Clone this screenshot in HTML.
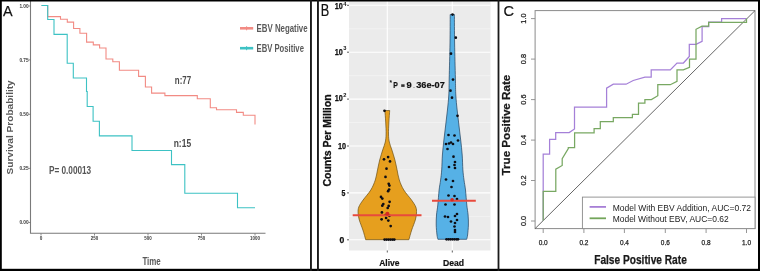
<!DOCTYPE html>
<html><head><meta charset="utf-8"><style>
html,body{margin:0;padding:0;background:#fff;width:760px;height:271px;overflow:hidden}
svg{display:block;font-family:"Liberation Sans", sans-serif;will-change:transform}
</style></head><body>
<svg width="760" height="271" viewBox="0 0 760 271">
<rect x="0" y="0" width="760" height="271" fill="#fff"/>
<text x="3.0" y="15.8" font-size="15" font-weight="normal" fill="#111" text-anchor="start" textLength="9.6" lengthAdjust="spacingAndGlyphs" stroke="#111" stroke-width="0.25">A</text>
<path d="M30.5,1 V233.3 H265.5" fill="none" stroke="#7a7a7a" stroke-width="1.1"/>
<line x1="28.5" x2="30.5" y1="6" y2="6" stroke="#6e6e6e" stroke-width="0.8"/>
<text x="28.6" y="7.9" font-size="5.4" font-weight="bold" fill="#383838" text-anchor="end" textLength="9.2" lengthAdjust="spacingAndGlyphs" >1.00</text>
<line x1="28.5" x2="30.5" y1="59.9" y2="59.9" stroke="#6e6e6e" stroke-width="0.8"/>
<text x="28.6" y="61.8" font-size="5.4" font-weight="bold" fill="#383838" text-anchor="end" textLength="9.2" lengthAdjust="spacingAndGlyphs" >0.75</text>
<line x1="28.5" x2="30.5" y1="114.3" y2="114.3" stroke="#6e6e6e" stroke-width="0.8"/>
<text x="28.6" y="116.2" font-size="5.4" font-weight="bold" fill="#383838" text-anchor="end" textLength="9.2" lengthAdjust="spacingAndGlyphs" >0.50</text>
<line x1="28.5" x2="30.5" y1="168.4" y2="168.4" stroke="#6e6e6e" stroke-width="0.8"/>
<text x="28.6" y="170.3" font-size="5.4" font-weight="bold" fill="#383838" text-anchor="end" textLength="9.2" lengthAdjust="spacingAndGlyphs" >0.25</text>
<line x1="28.5" x2="30.5" y1="222.5" y2="222.5" stroke="#6e6e6e" stroke-width="0.8"/>
<text x="28.6" y="224.4" font-size="5.4" font-weight="bold" fill="#383838" text-anchor="end" textLength="9.2" lengthAdjust="spacingAndGlyphs" >0.00</text>
<line x1="41" x2="41" y1="233.5" y2="235.5" stroke="#6e6e6e" stroke-width="0.8"/>
<text x="41" y="239.9" font-size="5.4" font-weight="bold" fill="#383838" text-anchor="middle" textLength="2.6" lengthAdjust="spacingAndGlyphs" >0</text>
<line x1="94.5" x2="94.5" y1="233.5" y2="235.5" stroke="#6e6e6e" stroke-width="0.8"/>
<text x="94.5" y="239.9" font-size="5.4" font-weight="bold" fill="#383838" text-anchor="middle" textLength="7.4" lengthAdjust="spacingAndGlyphs" >250</text>
<line x1="148" x2="148" y1="233.5" y2="235.5" stroke="#6e6e6e" stroke-width="0.8"/>
<text x="148" y="239.9" font-size="5.4" font-weight="bold" fill="#383838" text-anchor="middle" textLength="7.4" lengthAdjust="spacingAndGlyphs" >500</text>
<line x1="201.5" x2="201.5" y1="233.5" y2="235.5" stroke="#6e6e6e" stroke-width="0.8"/>
<text x="201.5" y="239.9" font-size="5.4" font-weight="bold" fill="#383838" text-anchor="middle" textLength="7.4" lengthAdjust="spacingAndGlyphs" >750</text>
<line x1="255" x2="255" y1="233.5" y2="235.5" stroke="#6e6e6e" stroke-width="0.8"/>
<text x="255" y="239.9" font-size="5.4" font-weight="bold" fill="#383838" text-anchor="middle" textLength="9.8" lengthAdjust="spacingAndGlyphs" >1000</text>
<path d="M41.5,5.5 H47.7 V16.6 H60.5 V19.2 H67.3 V22.1 H73.6 V28.5 H79.9 V33.3 H86.6 V42.1 H93.3 V44.9 H99.6 V48 H106 V59 H112.8 V61.8 H119.4 V70.2 H138.6 V76.4 H145.4 V87 H151.6 V93.1 H164.9 V95.6 H197.3 V98.8 H210.3 V107.8 H216.5 V109.8 H236.5 V112.4 H243.3 V115.2 H255 V124.5" fill="none" stroke="#F28B84" stroke-width="1.1"/>
<path d="M41.5,5.5 H47.7 V19.5 H54 V34.4 H67.2 V63.2 H73.3 V78 H86.5 V91.5 H87.2 V106.5 H93.1 V121.2 H99.4 V135.9 H132 V150.5 H171.5 V164.6 H184.8 V193.3 H237.5 V207.7 H255" fill="none" stroke="#3DC2C4" stroke-width="1.1"/>
<line x1="240" x2="253.2" y1="28.3" y2="28.3" stroke="#F28B84" stroke-width="2.6"/>
<line x1="246.6" x2="246.6" y1="26.3" y2="30.3" stroke="#F28B84" stroke-width="1"/>
<line x1="240" x2="253.2" y1="48.2" y2="48.2" stroke="#3DC2C4" stroke-width="2.6"/>
<line x1="246.6" x2="246.6" y1="46.2" y2="50.2" stroke="#3DC2C4" stroke-width="1"/>
<text x="256.6" y="31.7" font-size="10.6" font-weight="bold" fill="#5a5a5a" text-anchor="start" textLength="51" lengthAdjust="spacingAndGlyphs" >EBV Negative</text>
<text x="256.6" y="51.6" font-size="10.6" font-weight="bold" fill="#5a5a5a" text-anchor="start" textLength="47.3" lengthAdjust="spacingAndGlyphs" >EBV Positive</text>
<text x="174.8" y="83.8" font-size="10.6" font-weight="bold" fill="#4a4a4a" text-anchor="start" textLength="16.3" lengthAdjust="spacingAndGlyphs" >n:77</text>
<text x="173.7" y="147.4" font-size="10.6" font-weight="bold" fill="#4a4a4a" text-anchor="start" textLength="17.4" lengthAdjust="spacingAndGlyphs" >n:15</text>
<text x="48.9" y="173.9" font-size="10.2" font-weight="bold" fill="#555" text-anchor="start" textLength="42.3" lengthAdjust="spacingAndGlyphs" >P= 0.00013</text>
<g transform="translate(13.2,127.4) rotate(-90)"><text x="0" y="0" font-size="9.8" font-weight="bold" fill="#595959" text-anchor="middle" textLength="94.2" lengthAdjust="spacingAndGlyphs" >Survival Probability</text></g>
<text x="151.6" y="264.5" font-size="10" font-weight="bold" fill="#595959" text-anchor="middle" textLength="18.4" lengthAdjust="spacingAndGlyphs" >Time</text>
<text x="320.8" y="15.9" font-size="15.7" font-weight="normal" fill="#111" text-anchor="start" textLength="8.5" lengthAdjust="spacingAndGlyphs" stroke="#111" stroke-width="0.2">B</text>
<rect x="349" y="1" width="141.5" height="249.5" fill="#EBEBEB"/>
<line x1="349" x2="490.5" y1="28.75" y2="28.75" stroke="#F6F6F6" stroke-width="0.6"/>
<line x1="349" x2="490.5" y1="75.65" y2="75.65" stroke="#F6F6F6" stroke-width="0.6"/>
<line x1="349" x2="490.5" y1="122.55" y2="122.55" stroke="#F6F6F6" stroke-width="0.6"/>
<line x1="349" x2="490.5" y1="169.45" y2="169.45" stroke="#F6F6F6" stroke-width="0.6"/>
<line x1="349" x2="490.5" y1="216.35" y2="216.35" stroke="#F6F6F6" stroke-width="0.6"/>
<line x1="349" x2="490.5" y1="5.30" y2="5.30" stroke="#FFFFFF" stroke-width="1.1"/>
<line x1="349" x2="490.5" y1="52.20" y2="52.20" stroke="#FFFFFF" stroke-width="1.1"/>
<line x1="349" x2="490.5" y1="99.10" y2="99.10" stroke="#FFFFFF" stroke-width="1.1"/>
<line x1="349" x2="490.5" y1="146.00" y2="146.00" stroke="#FFFFFF" stroke-width="1.1"/>
<line x1="349" x2="490.5" y1="192.90" y2="192.90" stroke="#FFFFFF" stroke-width="1.1"/>
<line x1="349" x2="490.5" y1="239.80" y2="239.80" stroke="#FFFFFF" stroke-width="1.1"/>
<line x1="387.3" x2="387.3" y1="1" y2="250.5" stroke="#FFFFFF" stroke-width="1.1"/>
<line x1="452.3" x2="452.3" y1="1" y2="250.5" stroke="#FFFFFF" stroke-width="1.1"/>
<line x1="347" x2="349" y1="5.30" y2="5.30" stroke="#333" stroke-width="0.8"/>
<line x1="347" x2="349" y1="52.20" y2="52.20" stroke="#333" stroke-width="0.8"/>
<line x1="347" x2="349" y1="99.10" y2="99.10" stroke="#333" stroke-width="0.8"/>
<line x1="347" x2="349" y1="146.00" y2="146.00" stroke="#333" stroke-width="0.8"/>
<line x1="347" x2="349" y1="192.90" y2="192.90" stroke="#333" stroke-width="0.8"/>
<line x1="347" x2="349" y1="239.80" y2="239.80" stroke="#333" stroke-width="0.8"/>
<line x1="387.3" x2="387.3" y1="250.5" y2="252.5" stroke="#333" stroke-width="0.8"/>
<line x1="452.3" x2="452.3" y1="250.5" y2="252.5" stroke="#333" stroke-width="0.8"/>
<text x="342.9" y="8.6" font-size="8.8" font-weight="bold" fill="#111" text-anchor="end" textLength="8.1" lengthAdjust="spacingAndGlyphs" stroke="#111" stroke-width="0.25">10</text><text x="343.2" y="5.9" font-size="5.2" font-weight="bold" fill="#111" text-anchor="start" textLength="3.2" lengthAdjust="spacingAndGlyphs" >4</text>
<text x="342.9" y="54.49999999999999" font-size="8.8" font-weight="bold" fill="#111" text-anchor="end" textLength="8.1" lengthAdjust="spacingAndGlyphs" stroke="#111" stroke-width="0.25">10</text><text x="343.2" y="50.3" font-size="5.2" font-weight="bold" fill="#111" text-anchor="start" textLength="3.2" lengthAdjust="spacingAndGlyphs" >3</text>
<text x="342.9" y="100.8" font-size="8.8" font-weight="bold" fill="#111" text-anchor="end" textLength="8.1" lengthAdjust="spacingAndGlyphs" stroke="#111" stroke-width="0.25">10</text><text x="343.2" y="96.6" font-size="5.2" font-weight="bold" fill="#111" text-anchor="start" textLength="3.2" lengthAdjust="spacingAndGlyphs" >2</text>
<text x="346" y="149.2" font-size="8.8" font-weight="bold" fill="#111" text-anchor="end" textLength="8.1" lengthAdjust="spacingAndGlyphs" stroke="#111" stroke-width="0.25">10</text>
<text x="345.3" y="195.70000000000002" font-size="8.8" font-weight="bold" fill="#111" text-anchor="end" textLength="3.9" lengthAdjust="spacingAndGlyphs" stroke="#111" stroke-width="0.25">5</text>
<text x="344.2" y="243.0" font-size="8.8" font-weight="bold" fill="#111" text-anchor="end" textLength="4.8" lengthAdjust="spacingAndGlyphs" stroke="#111" stroke-width="0.25">0</text>
<path d="M389.70,110.50 C389.57,112.42 389.10,118.08 388.90,122.00 C388.70,125.92 388.43,130.67 388.50,134.00 C388.57,137.33 388.73,139.33 389.30,142.00 C389.87,144.67 390.97,147.00 391.90,150.00 C392.83,153.00 394.03,156.67 394.90,160.00 C395.77,163.33 396.37,166.67 397.10,170.00 C397.83,173.33 398.18,176.67 399.30,180.00 C400.42,183.33 401.77,186.67 403.80,190.00 C405.83,193.33 409.50,197.17 411.50,200.00 C413.50,202.83 414.97,204.83 415.80,207.00 C416.63,209.17 416.58,210.83 416.50,213.00 C416.42,215.17 416.10,217.17 415.30,220.00 C414.50,222.83 412.77,226.72 411.70,230.00 C410.63,233.28 409.37,238.08 408.90,239.70 L365.70,239.70 C365.23,238.08 363.97,233.28 362.90,230.00 C361.83,226.72 360.10,222.83 359.30,220.00 C358.50,217.17 358.18,215.17 358.10,213.00 C358.02,210.83 357.97,209.17 358.80,207.00 C359.63,204.83 361.10,202.83 363.10,200.00 C365.10,197.17 368.77,193.33 370.80,190.00 C372.83,186.67 374.18,183.33 375.30,180.00 C376.42,176.67 376.77,173.33 377.50,170.00 C378.23,166.67 378.83,163.33 379.70,160.00 C380.57,156.67 381.77,153.00 382.70,150.00 C383.63,147.00 384.73,144.67 385.30,142.00 C385.87,139.33 386.03,137.33 386.10,134.00 C386.17,130.67 385.90,125.92 385.70,122.00 C385.50,118.08 385.03,112.42 384.90,110.50 Z" fill="#E69F1E" stroke="#6b4f12" stroke-width="0.7"/>
<path d="M454.40,14.50 C454.43,19.25 454.43,32.42 454.60,43.00 C454.77,53.58 455.20,69.33 455.40,78.00 C455.60,86.67 455.51,89.67 455.80,95.00 C456.09,100.33 456.63,105.00 457.15,110.00 C457.67,115.00 458.31,120.00 458.90,125.00 C459.49,130.00 460.15,135.00 460.70,140.00 C461.25,145.00 461.83,150.00 462.20,155.00 C462.57,160.00 462.60,165.83 462.90,170.00 C463.20,174.17 463.57,176.67 464.00,180.00 C464.43,183.33 465.03,185.83 465.50,190.00 C465.97,194.17 466.37,200.83 466.80,205.00 C467.23,209.17 467.83,211.67 468.10,215.00 C468.37,218.33 468.48,221.67 468.40,225.00 C468.32,228.33 467.88,232.62 467.60,235.00 C467.32,237.38 466.85,238.58 466.70,239.30 L437.90,239.30 C437.75,238.58 437.28,237.38 437.00,235.00 C436.72,232.62 436.28,228.33 436.20,225.00 C436.12,221.67 436.23,218.33 436.50,215.00 C436.77,211.67 437.37,209.17 437.80,205.00 C438.23,200.83 438.63,194.17 439.10,190.00 C439.57,185.83 440.17,183.33 440.60,180.00 C441.03,176.67 441.40,174.17 441.70,170.00 C442.00,165.83 442.03,160.00 442.40,155.00 C442.77,150.00 443.35,145.00 443.90,140.00 C444.45,135.00 445.11,130.00 445.70,125.00 C446.29,120.00 446.93,115.00 447.45,110.00 C447.97,105.00 448.51,100.33 448.80,95.00 C449.09,89.67 449.00,86.67 449.20,78.00 C449.40,69.33 449.83,53.58 450.00,43.00 C450.17,32.42 450.17,19.25 450.20,14.50 Z" fill="#56B1E6" stroke="#1f3f5c" stroke-width="0.7"/>
<circle cx="384.5" cy="110.8" r="1.35" fill="#0d0d14"/>
<circle cx="388.1" cy="157.1" r="1.35" fill="#0d0d14"/>
<circle cx="384.0" cy="159.3" r="1.35" fill="#0d0d14"/>
<circle cx="390.0" cy="161.4" r="1.35" fill="#0d0d14"/>
<circle cx="386.5" cy="168.7" r="1.35" fill="#0d0d14"/>
<circle cx="385.5" cy="176.9" r="1.35" fill="#0d0d14"/>
<circle cx="388.7" cy="183.8" r="1.35" fill="#0d0d14"/>
<circle cx="389.4" cy="185.6" r="1.35" fill="#0d0d14"/>
<circle cx="389.1" cy="189.5" r="1.35" fill="#0d0d14"/>
<circle cx="388.1" cy="191.2" r="1.35" fill="#0d0d14"/>
<circle cx="381.0" cy="196.9" r="1.35" fill="#0d0d14"/>
<circle cx="382.3" cy="198.6" r="1.35" fill="#0d0d14"/>
<circle cx="389.6" cy="201.8" r="1.35" fill="#0d0d14"/>
<circle cx="383.3" cy="204.1" r="1.35" fill="#0d0d14"/>
<circle cx="382.3" cy="205.7" r="1.35" fill="#0d0d14"/>
<circle cx="388.7" cy="205.9" r="1.35" fill="#0d0d14"/>
<circle cx="387.7" cy="208.0" r="1.35" fill="#0d0d14"/>
<circle cx="381.9" cy="212.4" r="1.35" fill="#0d0d14"/>
<circle cx="385.5" cy="215.0" r="1.35" fill="#0d0d14"/>
<circle cx="389.4" cy="215.8" r="1.35" fill="#0d0d14"/>
<circle cx="386.1" cy="218.0" r="1.35" fill="#0d0d14"/>
<circle cx="381.6" cy="219.3" r="1.35" fill="#0d0d14"/>
<circle cx="388.3" cy="220.6" r="1.35" fill="#0d0d14"/>
<circle cx="390.7" cy="226.1" r="1.35" fill="#0d0d14"/>
<circle cx="384.6" cy="239.6" r="1.35" fill="#0d0d14"/>
<circle cx="386.6" cy="239.6" r="1.35" fill="#0d0d14"/>
<circle cx="388.6" cy="239.6" r="1.35" fill="#0d0d14"/>
<circle cx="390.6" cy="239.6" r="1.35" fill="#0d0d14"/>
<circle cx="392.6" cy="239.6" r="1.35" fill="#0d0d14"/>
<circle cx="394.3" cy="239.6" r="1.35" fill="#0d0d14"/>
<circle cx="452.5" cy="14.6" r="1.35" fill="#0d0d14"/>
<circle cx="455.8" cy="37.7" r="1.35" fill="#0d0d14"/>
<circle cx="451.0" cy="53.7" r="1.35" fill="#0d0d14"/>
<circle cx="453.0" cy="79.6" r="1.35" fill="#0d0d14"/>
<circle cx="450.5" cy="90.7" r="1.35" fill="#0d0d14"/>
<circle cx="452.0" cy="97.7" r="1.35" fill="#0d0d14"/>
<circle cx="457.5" cy="115.8" r="1.35" fill="#0d0d14"/>
<circle cx="448.5" cy="135.0" r="1.35" fill="#0d0d14"/>
<circle cx="454.5" cy="135.5" r="1.35" fill="#0d0d14"/>
<circle cx="458.0" cy="140.5" r="1.35" fill="#0d0d14"/>
<circle cx="446.0" cy="144.0" r="1.35" fill="#0d0d14"/>
<circle cx="449.0" cy="143.5" r="1.35" fill="#0d0d14"/>
<circle cx="451.0" cy="142.5" r="1.35" fill="#0d0d14"/>
<circle cx="453.0" cy="144.0" r="1.35" fill="#0d0d14"/>
<circle cx="447.5" cy="149.0" r="1.35" fill="#0d0d14"/>
<circle cx="453.5" cy="156.7" r="1.35" fill="#0d0d14"/>
<circle cx="455.0" cy="162.0" r="1.35" fill="#0d0d14"/>
<circle cx="449.0" cy="167.0" r="1.35" fill="#0d0d14"/>
<circle cx="454.5" cy="165.0" r="1.35" fill="#0d0d14"/>
<circle cx="455.0" cy="168.0" r="1.35" fill="#0d0d14"/>
<circle cx="446.0" cy="179.5" r="1.35" fill="#0d0d14"/>
<circle cx="453.0" cy="181.0" r="1.35" fill="#0d0d14"/>
<circle cx="451.5" cy="187.0" r="1.35" fill="#0d0d14"/>
<circle cx="448.5" cy="195.5" r="1.35" fill="#0d0d14"/>
<circle cx="454.5" cy="196.0" r="1.35" fill="#0d0d14"/>
<circle cx="457.0" cy="199.0" r="1.35" fill="#0d0d14"/>
<circle cx="445.5" cy="204.5" r="1.35" fill="#0d0d14"/>
<circle cx="454.5" cy="204.5" r="1.35" fill="#0d0d14"/>
<circle cx="445.0" cy="216.5" r="1.35" fill="#0d0d14"/>
<circle cx="448.0" cy="217.0" r="1.35" fill="#0d0d14"/>
<circle cx="455.0" cy="216.0" r="1.35" fill="#0d0d14"/>
<circle cx="457.0" cy="214.0" r="1.35" fill="#0d0d14"/>
<circle cx="457.0" cy="220.0" r="1.35" fill="#0d0d14"/>
<circle cx="451.0" cy="221.5" r="1.35" fill="#0d0d14"/>
<circle cx="455.0" cy="223.0" r="1.35" fill="#0d0d14"/>
<circle cx="454.5" cy="226.5" r="1.35" fill="#0d0d14"/>
<circle cx="455.0" cy="230.0" r="1.35" fill="#0d0d14"/>
<circle cx="455.0" cy="232.0" r="1.35" fill="#0d0d14"/>
<circle cx="446.5" cy="239.3" r="1.35" fill="#0d0d14"/>
<circle cx="448.5" cy="239.3" r="1.35" fill="#0d0d14"/>
<circle cx="450.5" cy="239.3" r="1.35" fill="#0d0d14"/>
<circle cx="452.5" cy="239.3" r="1.35" fill="#0d0d14"/>
<circle cx="454.5" cy="239.3" r="1.35" fill="#0d0d14"/>
<circle cx="456.5" cy="239.3" r="1.35" fill="#0d0d14"/>
<circle cx="458.0" cy="239.3" r="1.35" fill="#0d0d14"/>
<line x1="352.7" x2="421.5" y1="215.2" y2="215.2" stroke="#E84A3C" stroke-width="2.1"/>
<circle cx="387.4" cy="213.8" r="2" fill="#D42A20"/>
<line x1="432" x2="475.8" y1="200.8" y2="200.8" stroke="#E84A3C" stroke-width="2.1"/>
<circle cx="452.1" cy="199.8" r="1.8" fill="#D42A20"/>
<text x="389.6" y="85.0" font-size="6.5" font-weight="bold" fill="#111" text-anchor="start" >*</text>
<text x="393.2" y="87.8" font-size="8.2" font-weight="bold" fill="#111" text-anchor="start" textLength="4.6" lengthAdjust="spacingAndGlyphs" stroke="#111" stroke-width="0.2">P</text>
<rect x="401.2" y="84.3" width="3.4" height="2.6" fill="#333"/>
<text x="406.4" y="88" font-size="9" font-weight="bold" fill="#111" text-anchor="start" textLength="5.2" lengthAdjust="spacingAndGlyphs" stroke="#111" stroke-width="0.2">9</text>
<text x="412.8" y="88" font-size="9" font-weight="normal" fill="#777" text-anchor="start" >.</text>
<text x="416.2" y="88" font-size="9" font-weight="bold" fill="#111" text-anchor="start" textLength="28.6" lengthAdjust="spacingAndGlyphs" stroke="#111" stroke-width="0.2">36e-07</text>
<g transform="translate(330.6,140.5) rotate(-90)"><text x="0" y="0" font-size="10.8" font-weight="bold" fill="#111" text-anchor="middle" textLength="92.1" lengthAdjust="spacingAndGlyphs" stroke="#111" stroke-width="0.3">Counts Per Million</text></g>
<text x="389.4" y="265.5" font-size="9.2" font-weight="bold" fill="#111" text-anchor="middle" textLength="20.4" lengthAdjust="spacingAndGlyphs" stroke="#111" stroke-width="0.2">Alive</text>
<text x="453.5" y="265.5" font-size="9.2" font-weight="bold" fill="#111" text-anchor="middle" textLength="21.1" lengthAdjust="spacingAndGlyphs" stroke="#111" stroke-width="0.2">Dead</text>
<text x="503.4" y="15.5" font-size="15" font-weight="normal" fill="#111" text-anchor="start" textLength="10.5" lengthAdjust="spacingAndGlyphs" stroke="#111" stroke-width="0.2">C</text>
<rect x="535.1" y="10.6" width="219.9" height="218" fill="none" stroke="#8a8a8a" stroke-width="1"/>
<line x1="535.1" y1="228.6" x2="755" y2="10.6" stroke="#555" stroke-width="0.9"/>
<line x1="531" x2="535.1" y1="221.0" y2="221.0" stroke="#8a8a8a" stroke-width="0.9"/>
<g transform="translate(526.4,221.0) rotate(-90)"><text x="0" y="0" font-size="7.4" font-weight="normal" fill="#222" text-anchor="middle" textLength="10.2" lengthAdjust="spacingAndGlyphs" stroke="#222" stroke-width="0.25">0.0</text></g>
<line x1="531" x2="535.1" y1="180.5" y2="180.5" stroke="#8a8a8a" stroke-width="0.9"/>
<g transform="translate(526.4,180.5) rotate(-90)"><text x="0" y="0" font-size="7.4" font-weight="normal" fill="#222" text-anchor="middle" textLength="10.2" lengthAdjust="spacingAndGlyphs" stroke="#222" stroke-width="0.25">0.2</text></g>
<line x1="531" x2="535.1" y1="140.1" y2="140.1" stroke="#8a8a8a" stroke-width="0.9"/>
<g transform="translate(526.4,140.1) rotate(-90)"><text x="0" y="0" font-size="7.4" font-weight="normal" fill="#222" text-anchor="middle" textLength="10.2" lengthAdjust="spacingAndGlyphs" stroke="#222" stroke-width="0.25">0.4</text></g>
<line x1="531" x2="535.1" y1="99.6" y2="99.6" stroke="#8a8a8a" stroke-width="0.9"/>
<g transform="translate(526.4,99.6) rotate(-90)"><text x="0" y="0" font-size="7.4" font-weight="normal" fill="#222" text-anchor="middle" textLength="10.2" lengthAdjust="spacingAndGlyphs" stroke="#222" stroke-width="0.25">0.6</text></g>
<line x1="531" x2="535.1" y1="59.1" y2="59.1" stroke="#8a8a8a" stroke-width="0.9"/>
<g transform="translate(526.4,59.1) rotate(-90)"><text x="0" y="0" font-size="7.4" font-weight="normal" fill="#222" text-anchor="middle" textLength="10.2" lengthAdjust="spacingAndGlyphs" stroke="#222" stroke-width="0.25">0.8</text></g>
<line x1="531" x2="535.1" y1="18.6" y2="18.6" stroke="#8a8a8a" stroke-width="0.9"/>
<g transform="translate(526.4,18.6) rotate(-90)"><text x="0" y="0" font-size="7.4" font-weight="normal" fill="#222" text-anchor="middle" textLength="10.2" lengthAdjust="spacingAndGlyphs" stroke="#222" stroke-width="0.25">1.0</text></g>
<line x1="543.2" x2="543.2" y1="228.6" y2="233" stroke="#8a8a8a" stroke-width="0.9"/>
<text x="543.2" y="244.8" font-size="7" font-weight="normal" fill="#222" text-anchor="middle" textLength="9.0" lengthAdjust="spacingAndGlyphs" stroke="#222" stroke-width="0.25">0.0</text>
<line x1="583.9" x2="583.9" y1="228.6" y2="233" stroke="#8a8a8a" stroke-width="0.9"/>
<text x="583.9" y="244.8" font-size="7" font-weight="normal" fill="#222" text-anchor="middle" textLength="9.0" lengthAdjust="spacingAndGlyphs" stroke="#222" stroke-width="0.25">0.2</text>
<line x1="624.4" x2="624.4" y1="228.6" y2="233" stroke="#8a8a8a" stroke-width="0.9"/>
<text x="624.4" y="244.8" font-size="7" font-weight="normal" fill="#222" text-anchor="middle" textLength="9.0" lengthAdjust="spacingAndGlyphs" stroke="#222" stroke-width="0.25">0.4</text>
<line x1="665.3" x2="665.3" y1="228.6" y2="233" stroke="#8a8a8a" stroke-width="0.9"/>
<text x="665.3" y="244.8" font-size="7" font-weight="normal" fill="#222" text-anchor="middle" textLength="9.0" lengthAdjust="spacingAndGlyphs" stroke="#222" stroke-width="0.25">0.6</text>
<line x1="706.1" x2="706.1" y1="228.6" y2="233" stroke="#8a8a8a" stroke-width="0.9"/>
<text x="706.1" y="244.8" font-size="7" font-weight="normal" fill="#222" text-anchor="middle" textLength="9.0" lengthAdjust="spacingAndGlyphs" stroke="#222" stroke-width="0.25">0.8</text>
<line x1="746.5" x2="746.5" y1="228.6" y2="233" stroke="#8a8a8a" stroke-width="0.9"/>
<text x="746.5" y="244.8" font-size="7" font-weight="normal" fill="#222" text-anchor="middle" textLength="9.0" lengthAdjust="spacingAndGlyphs" stroke="#222" stroke-width="0.25">1.0</text>
<path d="M543.2,220.7 V154.1 H549.6 V139.4 H555.7 V132.6 H569.2 L574.5,129 V107 H606.6 V88.2 L613.3,84.2 H626.1 L633.2,80.5 L644.9,77.2 H651.2 V69.9 H670.3 L677,63 H683.4 L689.3,56.4 V44.4 H696 L702.1,41.3 V26.6 H708.7 V22.2 H721.6 V18.5 H746.5" fill="none" stroke="#A580D8" stroke-width="1.25"/>
<path d="M543.2,220.7 V191.3 H555.8 V169.2 L562.2,165.5 V158.7 L568.3,148.5 V147.5 H574.6 V132.8 H594.1 V128.6 H600.3 V121.6 H613.3 V117.7 H632.4 V114.4 H638.5 V103.2 H644.9 V99.5 H651.4 L657.8,95.7 V84.7 H670.3 L677,81.3 V69.9 H683.3 L689.5,67.4 V59.2 H696 V29.3 L702,26.2 H708.6 V22.3 H746.5 V18.6" fill="none" stroke="#78A862" stroke-width="1.25"/>
<rect x="582.4" y="197.1" width="172.6" height="31.5" fill="#fff" stroke="#8a8a8a" stroke-width="0.9"/>
<line x1="589.6" x2="606" y1="206.9" y2="206.9" stroke="#A77FD6" stroke-width="1.8"/>
<line x1="589.6" x2="606" y1="218.3" y2="218.3" stroke="#73A55A" stroke-width="1.8"/>
<text x="612.7" y="210.8" font-size="9" font-weight="normal" fill="#222" text-anchor="start" textLength="138.3" lengthAdjust="spacingAndGlyphs" >Model With EBV Addition, AUC=0.72</text>
<text x="612.7" y="222.1" font-size="9" font-weight="normal" fill="#222" text-anchor="start" textLength="116" lengthAdjust="spacingAndGlyphs" >Model Without EBV, AUC=0.62</text>
<g transform="translate(510,125.1) rotate(-90)"><text x="0" y="0" font-size="11.2" font-weight="bold" fill="#1a1a1a" text-anchor="middle" textLength="100.6" lengthAdjust="spacingAndGlyphs" stroke="#1a1a1a" stroke-width="0.25">True Positive Rate</text></g>
<text x="594.2" y="263.6" font-size="12.3" font-weight="bold" fill="#1a1a1a" text-anchor="start" textLength="92.6" lengthAdjust="spacingAndGlyphs" stroke="#1a1a1a" stroke-width="0.25">False Positive Rate</text>
<rect x="0" y="0" width="760" height="1.5" fill="#000"/>
<rect x="0" y="0" width="1.8" height="271" fill="#000"/>
<rect x="0" y="268.8" width="760" height="2.2" fill="#000"/>
<rect x="758" y="0" width="2" height="271" fill="#000"/>
<rect x="310" y="0" width="1.9" height="271" fill="#1a1a1a"/>
<rect x="317" y="0" width="1.9" height="271" fill="#1a1a1a"/>
<rect x="497.6" y="0" width="1.8" height="271" fill="#1a1a1a"/>
</svg>
</body></html>
